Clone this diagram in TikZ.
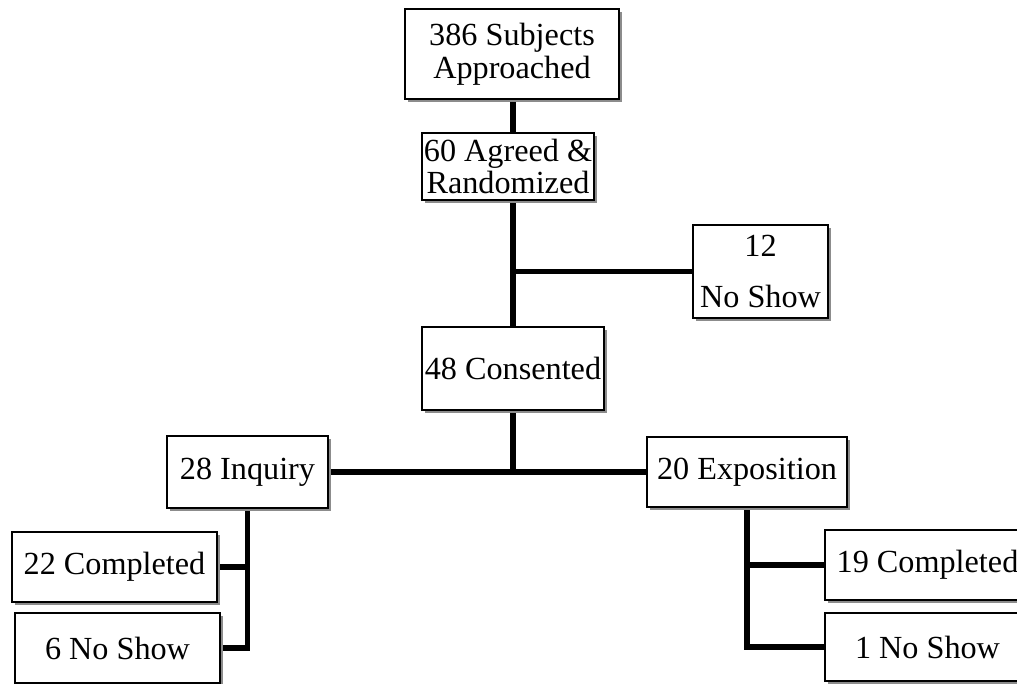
\documentclass[tikz,border=0pt]{standalone}
\usepackage{fontspec}
\setmainfont{Liberation Serif}
\usepackage{tikz}
\usetikzlibrary{positioning}
\usetikzlibrary{shadows}
\usetikzlibrary{backgrounds}
\tikzstyle{cbox} = [
	draw=black,
	line width=1.4pt,
	fill=white,
	align=center,
	inner sep=0pt,
	font=\fontsize{27.5}{28}\selectfont,
	drop shadow={shadow xshift=0.1cm, shadow yshift=-0.1cm, fill=black!45, opacity=1},
]
\tikzstyle{link} = [
	line width=5pt,
	draw=black,
]
\begin{document}
\begin{tikzpicture}[x=0.03cm, y=-0.03cm]
	\useasboundingbox (0,0) rectangle (1017,684);
	
	%
	% Boxes
	\node[cbox, minimum width=6.42cm, minimum height=2.7cm] at (512,54) (approached) {386 Subjects\\Approached};
	\node[cbox, minimum width=5.16cm, minimum height=2.01cm] at (508,166.5) (agreed) {60 Agreed \&\\Randomized};
	\node[cbox, minimum width=4.05cm, minimum height=2.79cm] at (760.5,271.5) (noshow12) {12\\[0.55cm]No Show};
	\node[cbox, minimum width=5.46cm, minimum height=2.49cm] at (513,368.5) (consented) {48 Consented};
	
	\node[cbox, minimum width=4.83cm, minimum height=2.16cm] at (247.5,472) (inquiry) {28 Inquiry};
	\node[cbox, minimum width=6.0cm, minimum height=2.1cm] at (747,472) (exposition) {20 Exposition};
	
	\node[cbox, minimum width=6.15cm, minimum height=2.1cm] at (114.5,567) (completed22) {22 Completed};
	\node[cbox, minimum width=6.15cm, minimum height=2.1cm] at (117.5,648) (noshow6) {6 No Show};
	
	\node[cbox, minimum width=6.15cm, minimum height=2.1cm] at (927.5,565) (completed19) {19 Completed};
	\node[cbox, minimum width=6.15cm, minimum height=2.04cm] at (927.5,647) (noshow1) {1 No Show};
	
	%
	% Links
	\begin{scope}[on background layer]
	\coordinate (split12) at (consented.north |- noshow12.west);
	\draw[link] (approached.south -| split12) -- (agreed.north -| split12);
	\draw[link] (agreed.south -| split12) -- (consented.north);
	\draw[link] (split12) -- (noshow12.west);
	
	\draw[link] (consented.south) -- (consented.south |- inquiry.east);
	\draw[link] (inquiry.east) -- (exposition.west);
	
	\draw[link] (inquiry.south) |- (completed22.east);
	\draw[link] (inquiry.south) |- (noshow6.east);
	
	\draw[link] (exposition.south) |- (completed19.west);
	\draw[link] (exposition.south) |- (noshow1.west);
	\end{scope}
	
\end{tikzpicture}
\end{document}
